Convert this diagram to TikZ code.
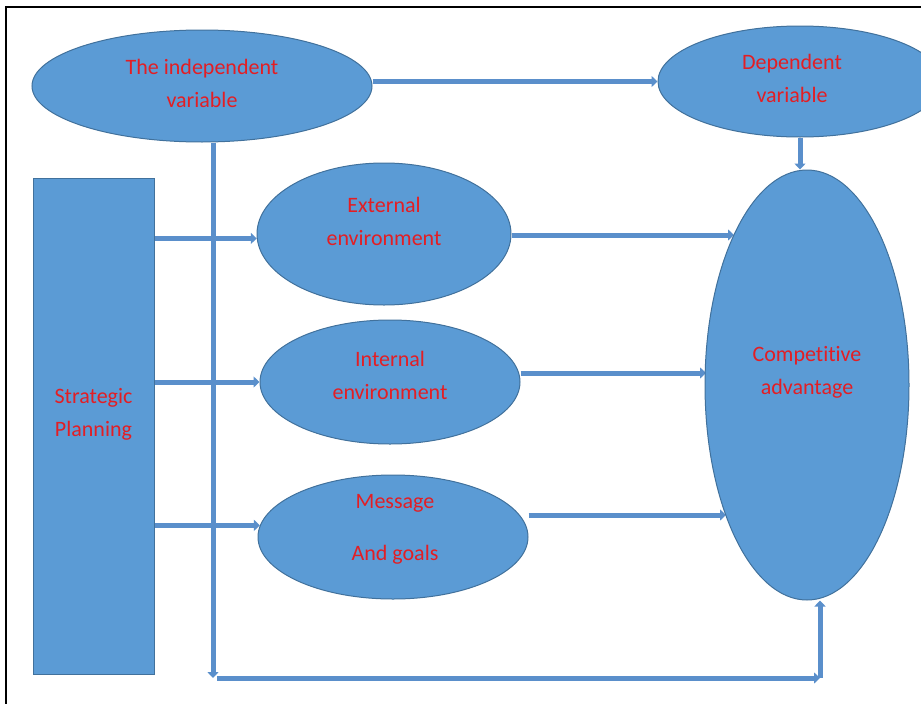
\documentclass[tikz,border=0pt]{standalone}
\usepackage{fontspec}
\setmainfont{Carlito}[Ligatures={NoCommon}]
\usetikzlibrary{shapes.geometric,arrows.meta,backgrounds}
\definecolor{shapeblue}{HTML}{5B9BD5}
\definecolor{edgeblue}{HTML}{41719C}
\definecolor{linkblue}{HTML}{5A8FCB}
\definecolor{labelred}{HTML}{E31E24}

\begin{document}
\begin{tikzpicture}[
        x=1pt, y=-1pt,
        oval/.style={draw=edgeblue, fill=shapeblue, ellipse, line width=1pt, inner sep=0pt},
        block/.style={draw=edgeblue, fill=shapeblue, rectangle, line width=1pt, inner sep=0pt},
        lbl/.style={text=labelred, align=center, font=\fontsize{22}{33}\selectfont},
        link/.style={draw=linkblue, line width=5pt, -{Triangle[width=11pt,length=6pt]}},
    ]
    \useasboundingbox (0,0) rectangle (921,704);
    \draw [line width=1.2pt] (6,704) -- (6,7) -- (921,7);

    \node [oval, minimum width=340pt, minimum height=112pt] (indep) at (202,86) {};
    \node [oval, minimum width=284pt, minimum height=111pt] (dep) at (800,81.5) {};
    \node [oval, minimum width=204pt, minimum height=430pt] (comp) at (807,385) {};
    \node [oval, minimum width=254pt, minimum height=142pt] (ext) at (384,234) {};
    \node [oval, minimum width=260pt, minimum height=124pt] (int) at (390,382) {};
    \node [oval, minimum width=270pt, minimum height=124pt] (msg) at (393,537) {};
    \node [block, minimum width=121pt, minimum height=496pt] (plan) at (93.5,426) {};

    \node [lbl] (indeplbl) at ([yshift=3pt]indep) {The independent\\variable};
    \node [lbl] (deplbl) at ([xshift=-8pt,yshift=3pt]dep) {Dependent\\variable};
    \node [lbl] (extlbl) at ([yshift=13pt]ext) {External\\environment};
    \node [lbl] (intlbl) at ([yshift=7pt]int) {Internal\\environment};
    \node [lbl] (msglbl) at ([xshift=2pt,yshift=8pt]msg) {Message\\[19pt]And goals};
    \node [lbl] (complbl) at ([yshift=13pt]comp) {Competitive\\advantage};
    \node [lbl] (planlbl) at ([yshift=11.5pt]plan) {Strategic\\Planning};

    \coordinate (cA) at (734,235);
    \coordinate (cB) at (706,373);
    \coordinate (cC) at (726,515);
    \coordinate (tl) at (213,678);
    \coordinate (br) at (820,678);

    \begin{scope}[on background layer]
        \draw [link] (indep.east |- dep.west) -- (dep.west);
        \draw [link] (dep.south) -- (dep.south |- comp.north);
        \draw [link] (plan.east |- ext.182) -- (ext.182);
        \draw [link] (plan.east |- int.west) -- (int.west);
        \draw [link] (plan.east |- msg.175) -- (msg.175);
        \draw [link] (ext.east |- cA) -- (cA);
        \draw [link] (int.east |- cB) -- (cB);
        \draw [link] (msg.east |- cC) -- (cC);
        \draw [link] (indep.south -| tl) -- (tl);
        \draw [link] ([xshift=4pt]tl) -- (br);
        \draw [link] (br) -- (br |- comp.south);
    \end{scope}
\end{tikzpicture}
\end{document}
